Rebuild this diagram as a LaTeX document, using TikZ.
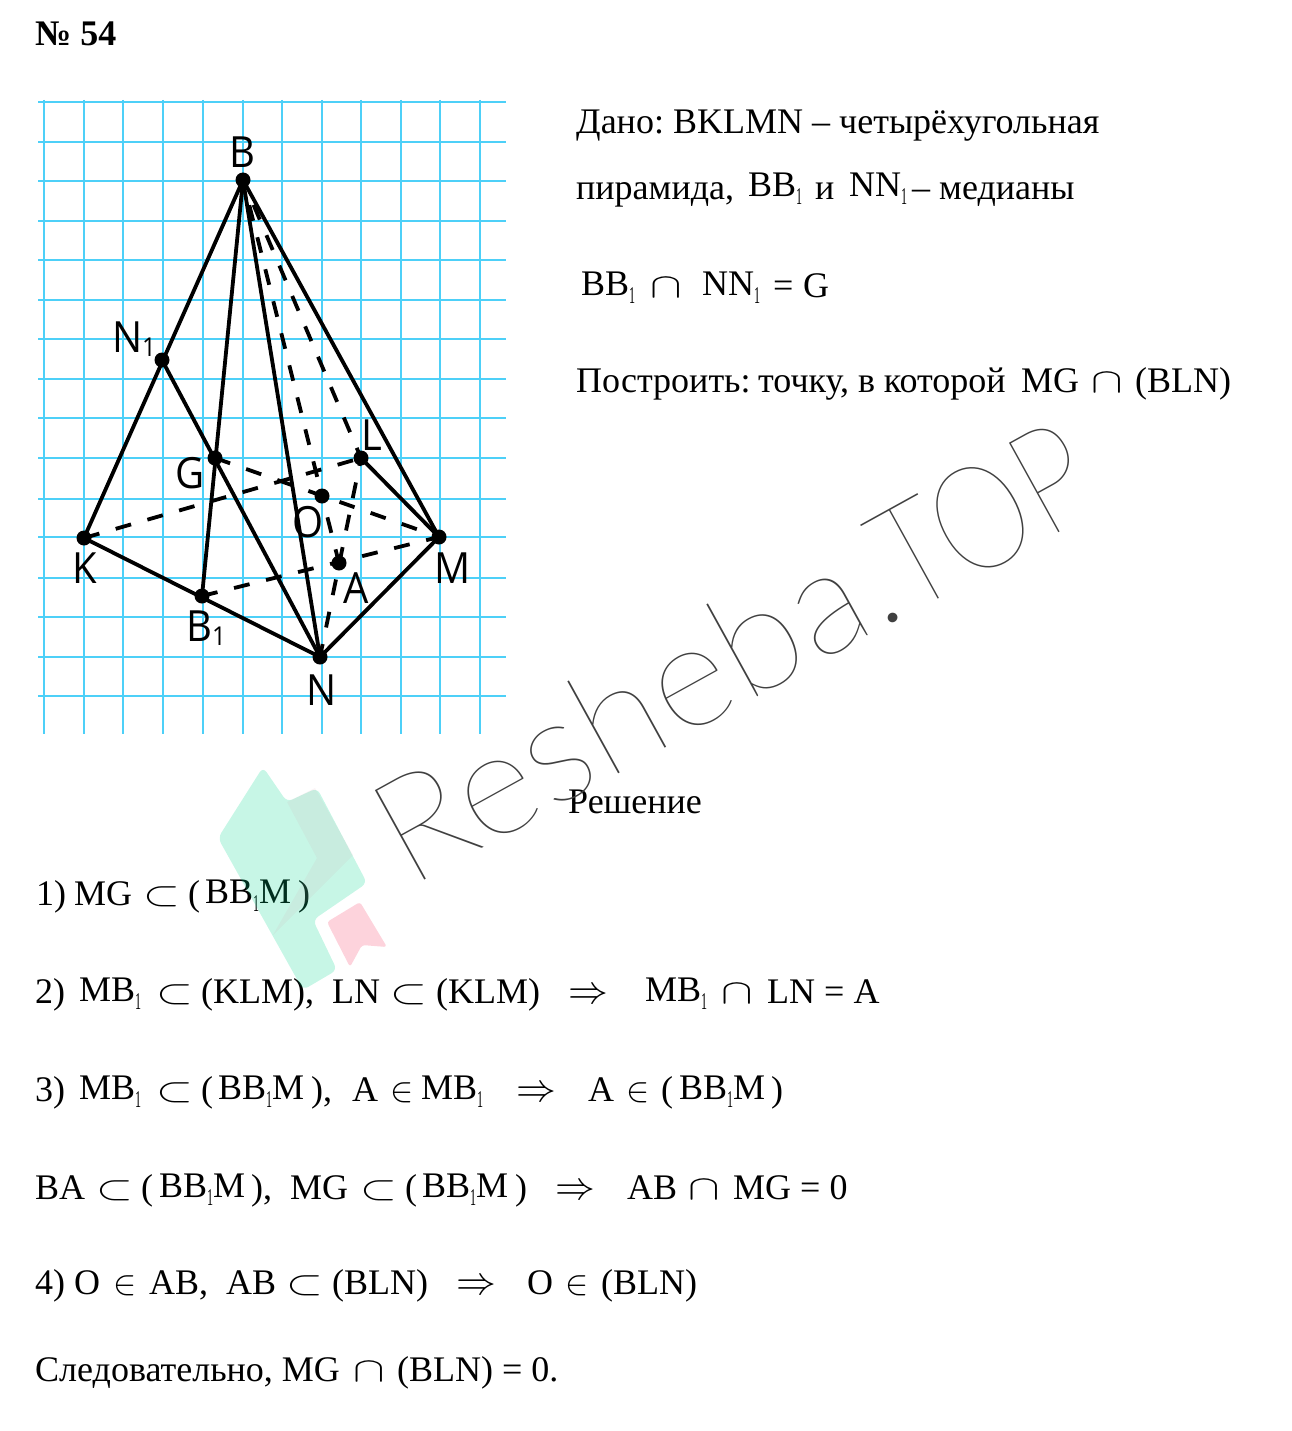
\documentclass[tikz,border=0pt]{standalone}
\usepackage{fontspec}
\setmainfont{Liberation Serif}
\newfontfamily\lab[FakeStretch=0.93]{Open Sans}
\newfontfamily\wm[FakeStretch=1.03]{Lato Hairline}
\newfontfamily\wmb[FakeStretch=0.83]{Lato Hairline}
\newfontfamily\subf[FakeStretch=0.5]{Liberation Serif}
\usetikzlibrary{calc}
\definecolor{gridc}{RGB}{77,208,248}
\newcounter{tn}
\newcommand\bodyf{\fontsize{36}{36}\selectfont}
\newcommand\lo{\raisebox{-8pt}{\subf\fontsize{24}{24}\selectfont 1}}
\newcommand\sym[1]{\scalebox{1.9}[1.4]{$#1$}}
\newcommand\el{\hspace{2pt}\scalebox{1.4}{$\in$}}
\newcommand\arr{\scalebox{1.6}{$\Rightarrow$}}
\newcommand\frag[3]{\stepcounter{tn}\node[txt] (t\thetn) at (#1,#2) {#3};}
\tikzset{
 txt/.style={anchor=base west,inner sep=0pt,font=\bodyf},
 gl/.style={gridc,line width=2pt},
 solid edge/.style={line width=3.8pt,line cap=round},
 dash edge/.style={line width=3.8pt,dash pattern=on 16pt off 17pt},
 dot/.style={circle,fill=black,inner sep=0pt,minimum size=15pt},
 lbl/.style={inner sep=0pt,font=\lab\fontsize{43}{43}\selectfont},
 logo/.style={rounded corners=6pt,opacity=.22},
 wmark/.style={anchor=base west,inner sep=0pt,rotate=28.9,text=black!75}
}
\begin{document}
\begin{tikzpicture}[x=1pt,y=-1pt]
\useasboundingbox (0,0) rectangle (1291,1431);
% grid
\foreach \gx in {44,84,123,163,203,243,282,322,361,401,440,480}{\draw[gl] (\gx,100) -- (\gx,734);}
\foreach \gy in {102,142,181,221,260,300,339,379,418,458,499,537,578,617,657,696}{\draw[gl] (38,\gy) -- (506,\gy);}
% points
\coordinate (B) at (243,180);
\coordinate (Na) at (162,360);
\coordinate (G) at (215,458);
\coordinate (L) at (361,458);
\coordinate (O) at (322,496);
\coordinate (K) at (84,538);
\coordinate (M) at (439,537);
\coordinate (A) at (339,563);
\coordinate (Ba) at (202,596);
\coordinate (N) at (320,657);
% edges
\draw[dash edge,dash phase=7pt] (B) -- (O);
\draw[dash edge,dash phase=6pt] (B) -- (L);
\draw[dash edge] (G) -- (M);
\draw[dash edge] (K) -- (L);
\draw[dash edge] (Ba) -- (M);
\draw[dash edge,dash phase=8pt] (L) -- (N);
\draw[dash edge,dash phase=11pt] (O) -- (A);
\draw[solid edge] (B) -- (K);
\draw[solid edge] (B) -- (Ba);
\draw[solid edge] (B) -- (N);
\draw[solid edge] (B) -- (M);
\draw[solid edge] (Na) -- (N);
\draw[solid edge] (K) -- (N);
\draw[solid edge] (N) -- (M);
\draw[solid edge] (L) -- (M);
\foreach \p in {B,Na,G,L,O,K,M,A,Ba,N}{\node[dot] (d\p) at (\p) {};}
% labels
\node[lbl] (lB) at (242,152) {B};
\node[lbl] (lNa) at (134,339) {N\raisebox{-.1em}{\fontsize{26}{26}\selectfont 1}};
\node[lbl] (lG) at (190,473) {G};
\node[lbl] (lL) at (372,435) {L};
\node[lbl] (lO) at (308,522) {O};
\node[lbl] (lK) at (85,568) {K};
\node[lbl] (lM) at (453,568) {M};
\node[lbl] (lA) at (356,588) {A};
\node[lbl] (lBa) at (206,628) {B\raisebox{-.1em}{\fontsize{26}{26}\selectfont 1}};
\node[lbl] (lN) at (322,690) {N};
% text
\frag{35}{46}{\bfseries № 54}
\frag{576}{134}{Дано:}
\frag{673}{134}{BKLMN – четырёхугольная}
\frag{576}{200}{пирамида,}
\frag{748}{197}{BB\lo}
\frag{815}{200}{и}
\frag{849}{197}{NN\lo}
\frag{912}{200}{– медианы}
\frag{581}{295}{BB\lo}
\frag{650}{297}{\sym{\cap}}
\frag{702}{295}{NN\lo}
\frag{773}{297}{=}
\frag{803}{297}{G}
\frag{576}{392}{Построить:}
\frag{758}{392}{точку, в которой}
\frag{1021}{392}{MG}
\frag{1091}{392}{\sym{\cap}}
\frag{1135}{392}{(BLN)}
\frag{568}{813}{Решение}
\frag{36}{905}{1)}
\frag{74}{905}{MG}
\frag{143}{905}{\sym{\subset}}
\frag{188}{905}{(}
\frag{205}{903}{BB\lo M}
\frag{298}{905}{)}
\frag{35}{1003}{2)}
\frag{79}{1001}{MB\lo}
\frag{156}{1003}{\sym{\subset}}
\frag{201}{1003}{(KLM),}
\frag{332}{1003}{LN}
\frag{390}{1003}{\sym{\subset}}
\frag{436}{1003}{(KLM)}
\frag{568}{1003}{\arr}
\frag{645}{1001}{MB\lo}
\frag{721}{1003}{\sym{\cap}}
\frag{767}{1003}{LN = A}
\frag{35}{1101}{3)}
\frag{79}{1099}{MB\lo}
\frag{156}{1101}{\sym{\subset}}
\frag{201}{1101}{(}
\frag{218}{1099}{BB\lo M}
\frag{311}{1101}{),}
\frag{352}{1101}{A}
\frag{388}{1101}{\el}
\frag{421}{1099}{MB\lo}
\frag{516}{1101}{\arr}
\frag{588}{1101}{A}
\frag{624}{1101}{\el}
\frag{661}{1101}{(}
\frag{679}{1099}{BB\lo M}
\frag{771}{1101}{)}
\frag{35}{1199}{BA}
\frag{96}{1199}{\sym{\subset}}
\frag{141}{1199}{(}
\frag{159}{1197}{BB\lo M}
\frag{251}{1199}{),}
\frag{290}{1199}{MG}
\frag{360}{1199}{\sym{\subset}}
\frag{405}{1199}{(}
\frag{422}{1197}{BB\lo M}
\frag{515}{1199}{)}
\frag{555}{1199}{\arr}
\frag{627}{1199}{AB}
\frag{688}{1199}{\sym{\cap}}
\frag{733}{1199}{MG = 0}
\frag{35}{1294}{4) O}
\frag{111}{1294}{\el}
\frag{149}{1294}{AB,}
\frag{226}{1294}{AB}
\frag{286}{1294}{\sym{\subset}}
\frag{332}{1294}{(BLN)}
\frag{456}{1294}{\arr}
\frag{527}{1294}{O}
\frag{563}{1294}{\el}
\frag{601}{1294}{(BLN)}
\frag{35}{1381}{Следовательно, MG}
\frag{353}{1381}{\sym{\cap}}
\frag{397}{1381}{(BLN) = 0.}
% watermark
\fill[logo,fill={rgb,255:red,0;green,214;blue,140}] (263,767) -- (218,838) -- (303,990) -- (337,970) -- (313,920) -- (367,883) -- (317,788) -- (287,802) -- cycle;
\fill[opacity=.1,fill={rgb,255:red,207;green,146;blue,160}] (287,802) -- (315,788) -- (353,855) -- (273,935) -- (317,858) -- cycle;
\fill[rounded corners=3pt,fill={rgb,255:red,253;green,211;blue,220}] (327,922) -- (360,902) -- (387,947) -- (362,945) -- (350,967) -- cycle;
\node[wmark,font=\wm\fontsize{146}{146}\selectfont] (wmarka) at (409,889) {Resheba.};
\node[wmark,font=\wmb\fontsize{146}{146}\selectfont] (wmarkb) at (908,616) {TOP};
\end{tikzpicture}
\end{document}
